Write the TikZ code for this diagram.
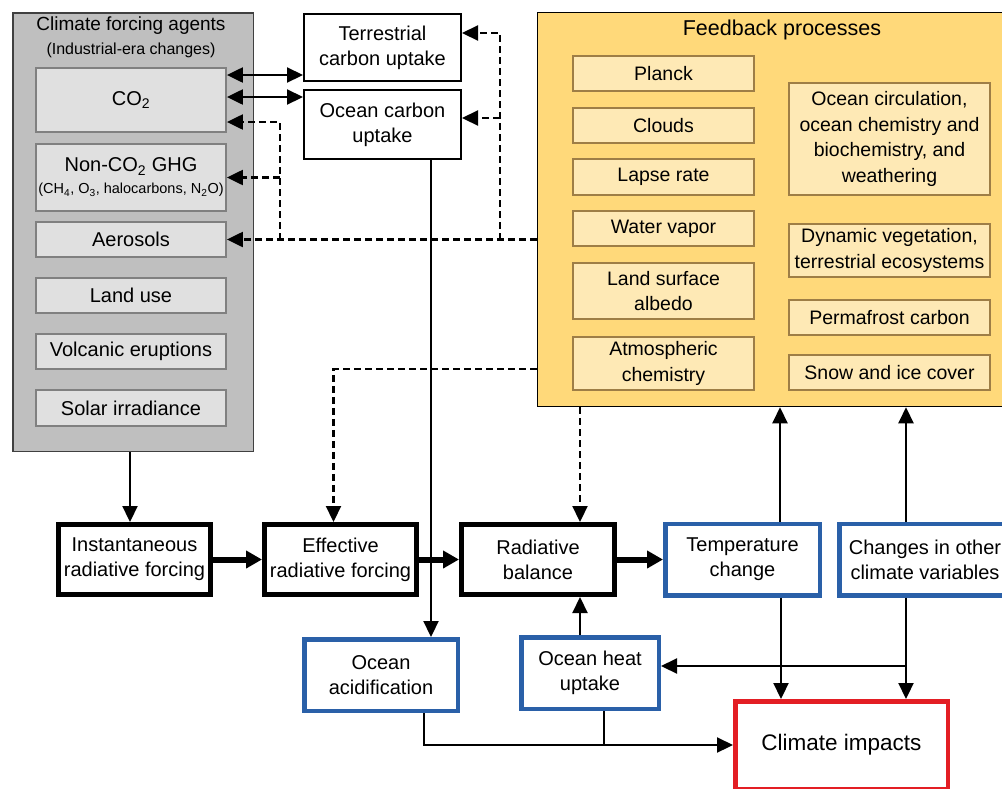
\documentclass[tikz,border=0pt]{standalone}
\usepackage{fontspec}
\setmainfont{Liberation Sans}
\usetikzlibrary{arrows.meta, calc}
\definecolor{agentfill}{RGB}{191,191,191}
\definecolor{agentline}{RGB}{64,64,64}
\definecolor{agentbox}{RGB}{224,224,224}
\definecolor{agentboxline}{RGB}{128,128,128}
\definecolor{feedback}{RGB}{255,217,122}
\definecolor{fbfill}{RGB}{254,233,181}
\definecolor{fbline}{RGB}{158,126,70}
\definecolor{response}{RGB}{42,96,168}
\definecolor{impacts}{RGB}{227,30,36}

\begin{document}
\begin{tikzpicture}[
    x=1pt, y=-1pt,
    font=\fontsize{20}{25}\selectfont,
    group/.style={rectangle, draw, line width=1.5pt, inner sep=0pt},
    agent/.style={rectangle, draw=agentboxline, line width=1.8pt, fill=agentbox, minimum width=190pt, inner sep=0pt, align=center},
    carbon/.style={rectangle, draw, line width=2pt, fill=white, minimum width=157pt, inner sep=0pt, align=center},
    fbbox/.style={rectangle, draw=fbline, line width=1.8pt, fill=fbfill, inner sep=0pt, align=center, font=\fontsize{19.5}{25.5}\selectfont},
    forcing/.style={rectangle, draw, line width=5pt, fill=white, minimum height=70pt, inner sep=0pt, align=center},
    resp/.style={rectangle, draw=response, line width=4.5pt, fill=white, minimum height=71.5pt, inner sep=0pt, align=center},
    impact/.style={rectangle, draw=impacts, line width=4.5pt, fill=white, inner sep=0pt, align=center, font=\fontsize{22.5}{27}\selectfont},
    arrow/.style={-{Triangle[length=16pt,width=15pt]}, line width=2.2pt},
    twoway/.style={{Triangle[length=16pt,width=15pt]}-{Triangle[length=16pt,width=15pt]}, line width=2.2pt},
    dasharrow/.style={arrow, dash pattern=on 7pt off 4pt},
    thickarrow/.style={-{Triangle[length=16pt,width=17pt]}, line width=6pt}
]
\useasboundingbox (0,0) rectangle (1002,788);
\clip (0,0) rectangle (1002,788);

% Climate forcing agents
\node[group, draw=agentline, fill=agentfill, minimum width=240.5pt, minimum height=438.5pt] (agents) at (133,232) {};
\node[font=\fontsize{19}{23}\selectfont] (agentstitle) at (131,26) {Climate forcing agents};
\node[font=\fontsize{16}{20}\selectfont] (agentssub) at (131,50) {(Industrial-era changes)};
\node[agent, minimum height=64pt] (co2) at (131,100) {CO\textsubscript{2}};
\node[agent, minimum height=67pt] (nonco2) at (131,177.5) {Non-CO\textsubscript{2} GHG\\[-3pt]{\fontsize{14.5}{18}\selectfont (CH\textsubscript{4}, O\textsubscript{3}, halocarbons, N\textsubscript{2}O)}};
\node[agent, minimum height=35pt] (aerosols) at (131,239.5) {Aerosols};
\node[agent, minimum height=35pt] (landuse) at (131,295.5) {Land use};
\node[agent, minimum height=35pt] (volcanic) at (131,351.5) {Volcanic eruptions};
\node[agent, minimum height=36pt] (solar) at (131,408) {Solar irradiance};

% Carbon uptake
\node[carbon, minimum height=67pt] (terr) at (382.5,47.5) {Terrestrial\\carbon uptake};
\node[carbon, minimum height=69pt] (oceanc) at (382.5,124.5) {Ocean carbon\\uptake};

% Feedback processes
\node[group, fill=feedback, minimum width=477pt, minimum height=394pt] (feedback) at (776,209.5) {};
\node[font=\fontsize{21.5}{26}\selectfont] (fbtitle) at (782,30) {Feedback processes};
\node[fbbox, minimum width=181pt, minimum height=35pt] (planck) at (663.5,73.5) {Planck};
\node[fbbox, minimum width=181pt, minimum height=35pt] (clouds) at (663.5,125.5) {Clouds};
\node[fbbox, minimum width=181pt, minimum height=36pt] (lapse) at (663.5,177) {Lapse rate};
\node[fbbox, minimum width=181pt, minimum height=35pt] (water) at (663.5,228.5) {Water vapor};
\node[fbbox, minimum width=181pt, minimum height=56pt] (albedo) at (663.5,291) {Land surface\\albedo};
\node[fbbox, minimum width=181pt, minimum height=53pt] (atmos) at (663.5,363.5) {Atmospheric\\chemistry};
\node[fbbox, minimum width=201pt, minimum height=112pt] (oceancirc) at (889.5,139) {Ocean circulation,\\ocean chemistry and\\biochemistry, and\\weathering};
\node[fbbox, minimum width=201pt, minimum height=53pt] (vegetation) at (889.5,250.5) {Dynamic vegetation,\\terrestrial ecosystems};
\node[fbbox, minimum width=201pt, minimum height=35pt] (permafrost) at (889.5,317.5) {Permafrost carbon};
\node[fbbox, minimum width=201pt, minimum height=35pt] (snow) at (889.5,372.5) {Snow and ice cover};

% Forcing and response chain
\node[forcing, minimum width=152pt] (inst) at (134.5,559.5) {Instantaneous\\radiative forcing};
\node[forcing, minimum width=152pt] (eff) at (340.5,559.5) {Effective\\radiative forcing};
\node[forcing, minimum width=153pt] (rad) at (538,559.5) {Radiative\\balance};
\node[resp, minimum width=154.5pt] (temp) at (742.5,559.5) {Temperature\\change};
\node[resp, minimum width=171.5pt] (changes) at (925,559.5) {Changes in other\\climate variables};
\node[resp, minimum width=153.5pt] (oacid) at (381,675) {Ocean\\acidification};
\node[resp, minimum width=137.5pt] (oheat) at (590,673) {Ocean heat\\uptake};
\node[impact, minimum width=212.5pt, minimum height=87.5pt] (impacts) at (841.5,745) {Climate impacts};

% Split points
\coordinate (agentsplit) at (280,239.5);
\coordinate (carbonsplit) at (500,239.5);
\coordinate (varsplit) at (906,666);

% Carbon exchange
\draw[twoway] (co2.east |- 0,75) -- (terr.west |- 0,75);
\draw[twoway] (co2.east |- 0,97) -- (oceanc.west |- 0,97);

% Feedbacks onto agents and uptake
\draw[dasharrow] (feedback.west |- aerosols.east) -- (aerosols.east);
\draw[dasharrow] (agentsplit) |- ($(co2.east)+(0,22)$);
\draw[dasharrow] (agentsplit |- nonco2.east) -- (nonco2.east);
\draw[dasharrow] (carbonsplit) |- ($(terr.east)+(0,-14.5)$);
\draw[dasharrow] (carbonsplit |- 0,118) -- ($(oceanc.east)+(0,-6.5)$);
\draw[dasharrow] (feedback.west |- 0,369) -| ($(eff.north)+(-7,0)$);
\draw[dasharrow] (feedback.south -| 580,0) -- (rad.north -| 580,0);

% Main chain
\draw[arrow] (agents.south -| 130,0) -- (inst.north -| 130,0);
\draw[thickarrow] (inst.east) -- (eff.west);
\draw[thickarrow] (eff.east) -- (rad.west);
\draw[thickarrow] (rad.east) -- (temp.west);

% Ocean branches
\draw[arrow] (oceanc.south -| 431,0) -- (oacid.north -| 431,0);
\draw[arrow] (oheat.north -| 580,0) -- (rad.south -| 580,0);
\draw[arrow] (oacid.south -| 424,0) |- (impacts.west);
\draw[line width=2.2pt] (oheat.south -| 604,0) -- (impacts.west -| 604,0);

% Responses
\draw[arrow] (temp.north -| 780,0) -- (feedback.south -| 780,0);
\draw[arrow] (temp.south -| 781,0) -- (impacts.north -| 781,0);
\draw[arrow] (changes.north -| 906,0) -- (feedback.south -| 906,0);
\draw[arrow] (changes.south -| 906,0) -- (impacts.north -| 906,0);
\draw[arrow] (varsplit) -- (oheat.east |- varsplit);

\end{tikzpicture}
\end{document}
